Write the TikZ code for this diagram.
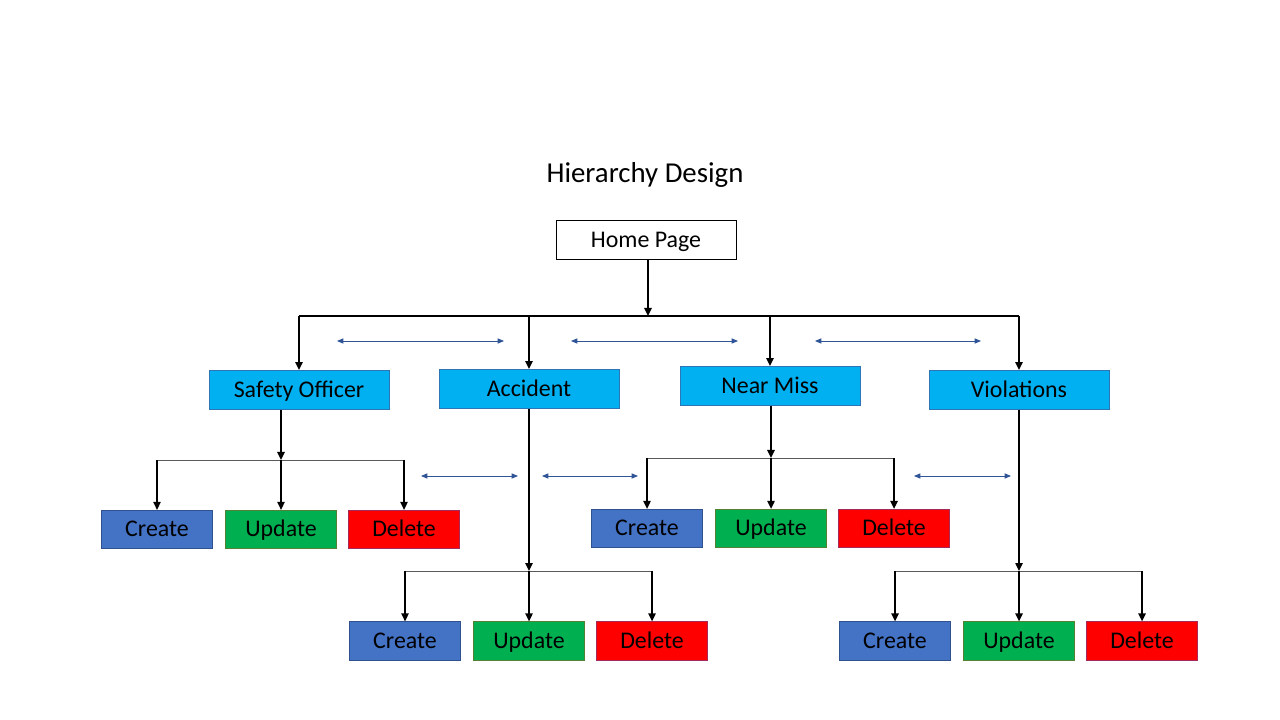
\documentclass[tikz,border=0pt]{standalone}
\usepackage{fontspec}
\setmainfont{Carlito}
\usetikzlibrary{arrows.meta,positioning}
\definecolor{Cat}{HTML}{00B0F0}
\definecolor{CatEdge}{HTML}{2E75B6}
\definecolor{Create}{HTML}{4472C4}
\definecolor{CreateEdge}{HTML}{2F528F}
\definecolor{Update}{HTML}{00B050}
\definecolor{UpdateEdge}{HTML}{548235}
\definecolor{Delete}{HTML}{FF0000}
\definecolor{DeleteEdge}{HTML}{A52A5A}
\definecolor{Link}{HTML}{2F5597}

\begin{document}
\begin{tikzpicture}[
  x=0.025cm,y=-0.025cm,
  label font/.style={font=\fontsize{17}{20}\selectfont,text height=13pt,text depth=2.5pt},
  home/.style={draw=black,fill=white,line width=0.6pt,minimum width=4.5cm,minimum height=0.98cm,label font},
  cat/.style={draw=CatEdge,fill=Cat,line width=0.5pt,minimum width=4.5cm,minimum height=0.98cm,label font},
  leaf/.style={line width=0.5pt,minimum width=2.78cm,minimum height=0.96cm,label font},
  create/.style={leaf,draw=CreateEdge,fill=Create},
  update/.style={leaf,draw=UpdateEdge,fill=Update},
  delete/.style={leaf,draw=DeleteEdge,fill=Delete},
  arrow/.style={-{Triangle[length=2mm,width=1.8mm]},line width=1.3pt},
  bus/.style={line width=1.3pt},
  subbus/.style={line width=0.7pt,draw=black!65},
  link/.style={{Triangle[length=1.6mm,width=1.3mm]}-{Triangle[length=1.6mm,width=1.3mm]},draw=Link,line width=0.6pt}
]
\useasboundingbox (0,0) rectangle (1280,720);

\node[font=\fontsize{20.5}{24}\selectfont] (title) at (645,175) {Hierarchy Design};
\node[home] (home) at (646,240) {Home Page};

% categories
\node[cat] (so) at (299,390) {Safety Officer};
\node[cat] (ac) at (529,389) {Accident};
\node[cat] (nm) at (770,386) {Near Miss};
\node[cat] (vi) at (1019,390) {Violations};

% top bus
\coordinate (hub) at (648,316);
\draw[arrow] (hub |- home.south) -- (hub);
\draw[bus] (so.north |- hub) -- (vi.north |- hub);
\foreach \c in {so,ac,nm,vi}
  \draw[arrow] (\c.north |- hub) -- (\c.north);

% leaves under each category
\foreach \c/\x/\y/\b in {so/281/529.5/460, ac/529/641/571, nm/771/528.5/458, vi/1019/641/571}{
  \node[create] (\c C) at (\x-124,\y) {Create};
  \node[update] (\c U) at (\x,\y) {Update};
  \node[delete] (\c D) at (\x+123,\y) {Delete};
  \coordinate (\c J) at (\x,\b);
  \draw[subbus] (\c C.north |- \c J) -- (\c D.north |- \c J);
  \draw[arrow] (\c J |- \c.south) -- (\c J);
  \foreach \l in {C,U,D}
    \draw[arrow] (\c\l.north |- \c J) -- (\c\l.north);
}

% side links
\coordinate (l1a) at (337,341); \coordinate (l1b) at (504,341);
\coordinate (l2a) at (571,341); \coordinate (l2b) at (738,341);
\coordinate (l3a) at (815,341); \coordinate (l3b) at (981,341);
\coordinate (l4a) at (421,476); \coordinate (l4b) at (518,476);
\coordinate (l5a) at (542,476); \coordinate (l5b) at (638,476);
\coordinate (l6a) at (914,476); \coordinate (l6b) at (1011,476);
\foreach \i in {1,...,6}
  \draw[link] (l\i a) -- (l\i b);
\end{tikzpicture}
\end{document}
